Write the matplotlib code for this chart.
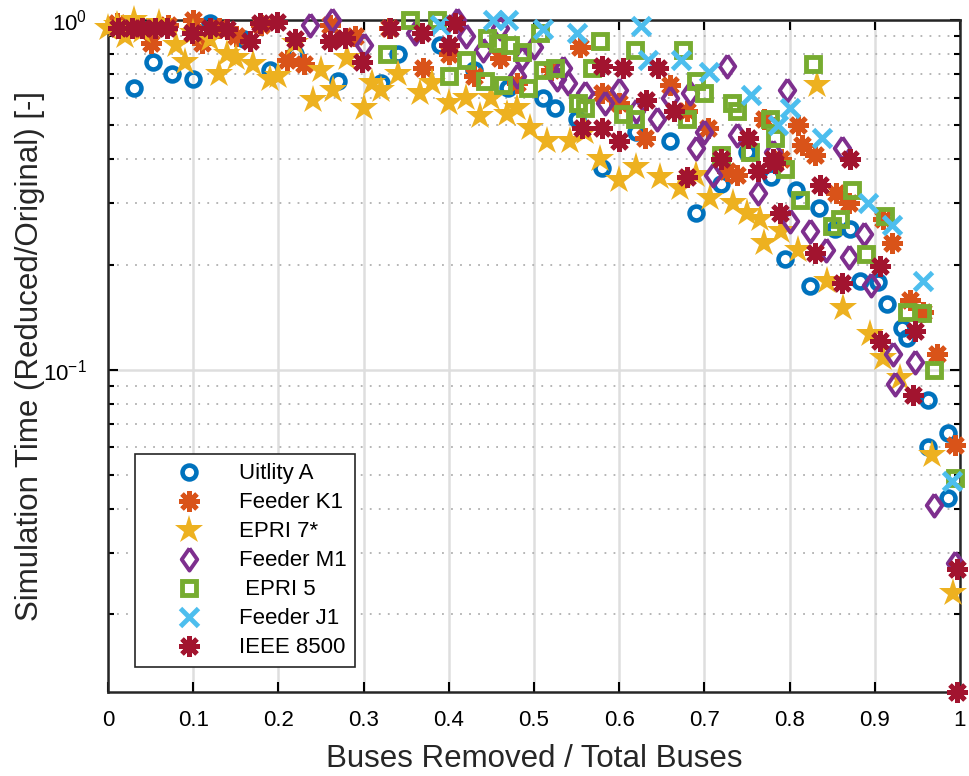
import numpy as np
import matplotlib
matplotlib.use('Agg')
import matplotlib.pyplot as plt
from matplotlib.ticker import LogLocator, NullFormatter, FixedLocator, FuncFormatter

plt.rcParams['font.family'] = ['Liberation Sans', 'DejaVu Sans']
plt.rcParams['mathtext.fontset'] = 'custom'
plt.rcParams['mathtext.rm'] = 'Liberation Sans'
plt.rcParams['mathtext.it'] = 'Liberation Sans'

# data (fraction of buses removed, normalised run time)
util_a_x = [0.03, 0.053, 0.075, 0.10, 0.12, 0.16, 0.19, 0.22, 0.27, 0.32, 0.34, 0.39, 0.43, 0.47,
            0.51, 0.525, 0.55, 0.58, 0.62, 0.66, 0.69, 0.72, 0.75, 0.778, 0.795, 0.808, 0.824,
            0.835, 0.853, 0.871, 0.883, 0.904, 0.914, 0.932, 0.938, 0.962, 0.962, 0.986, 0.986]
util_a_y = [0.64, 0.76, 0.70, 0.68, 0.98, 0.88, 0.72, 0.80, 0.67, 0.66, 0.80, 0.85, 0.72, 0.64,
            0.60, 0.56, 0.52, 0.377, 0.48, 0.45, 0.28, 0.34, 0.42, 0.355, 0.207, 0.326, 0.174,
            0.29, 0.253, 0.253, 0.18, 0.178, 0.154, 0.132, 0.123, 0.082, 0.06, 0.066, 0.043]

k1_x = [0.01, 0.03, 0.05, 0.07, 0.10, 0.11, 0.13, 0.15, 0.18, 0.21, 0.23, 0.26, 0.29, 0.33, 0.37,
        0.40, 0.43, 0.46, 0.48, 0.52, 0.554, 0.58, 0.60, 0.63, 0.66, 0.68, 0.704, 0.726, 0.738,
        0.77, 0.79, 0.81, 0.815, 0.83, 0.855, 0.87, 0.91, 0.92, 0.941, 0.956, 0.973, 0.994]
k1_y = [0.98, 0.95, 0.86, 0.97, 1.0, 0.86, 0.95, 0.90, 0.97, 0.77, 0.75, 0.97, 0.90, 0.95, 0.73,
        0.80, 0.69, 0.78, 0.66, 0.72, 0.84, 0.62, 0.58, 0.46, 0.65, 0.55, 0.49, 0.37, 0.36,
        0.52, 0.40, 0.50, 0.44, 0.41, 0.32, 0.30, 0.27, 0.23, 0.158, 0.146, 0.111, 0.061]

epri7_x = [0.0, 0.01, 0.02, 0.03, 0.04, 0.06, 0.08, 0.09, 0.10, 0.12, 0.13, 0.14, 0.15, 0.17,
           0.19, 0.20, 0.22, 0.24, 0.25, 0.264, 0.28, 0.30, 0.31, 0.32, 0.34, 0.366, 0.38, 0.40,
           0.42, 0.437, 0.45, 0.468, 0.48, 0.495, 0.515, 0.542, 0.56, 0.577, 0.60, 0.62, 0.648,
           0.671, 0.69, 0.707, 0.734, 0.75, 0.765, 0.77, 0.79, 0.81, 0.832, 0.844, 0.863, 0.894,
           0.91, 0.93, 0.967, 0.992]
epri7_y = [0.95, 0.97, 0.90, 1.0, 0.93, 0.98, 0.85, 0.76, 0.92, 0.88, 0.70, 0.80, 0.78, 0.75,
           0.68, 0.69, 0.86, 0.59, 0.72, 0.63, 0.78, 0.56, 0.66, 0.63, 0.70, 0.62, 0.66, 0.58,
           0.60, 0.53, 0.60, 0.54, 0.56, 0.49, 0.45, 0.45, 0.48, 0.40, 0.35, 0.38, 0.355,
           0.33, 0.36, 0.31, 0.30, 0.28, 0.27, 0.23, 0.25, 0.22, 0.65, 0.18, 0.15, 0.127,
           0.108, 0.095, 0.057, 0.023]

m1_x = [0.237, 0.263, 0.30, 0.36, 0.41, 0.42, 0.44, 0.46, 0.48, 0.486, 0.50, 0.527, 0.534, 0.54,
        0.56, 0.583, 0.60, 0.62, 0.644, 0.66, 0.683, 0.69, 0.70, 0.71, 0.726, 0.738, 0.763, 0.78,
        0.797, 0.80, 0.824, 0.843, 0.861, 0.87, 0.887, 0.896, 0.921, 0.924, 0.947, 0.969, 0.994]
m1_y = [0.97, 1.0, 0.85, 0.92, 1.0, 0.90, 0.82, 0.95, 0.69, 0.78, 0.84, 0.68, 0.73, 0.66,
        0.62, 0.58, 0.63, 0.55, 0.52, 0.60, 0.62, 0.43, 0.48, 0.36, 0.74, 0.47, 0.32, 0.42,
        0.63, 0.267, 0.25, 0.22, 0.43, 0.21, 0.245, 0.175, 0.111, 0.091, 0.105, 0.041, 0.028]

epri5_x = [0.327, 0.354, 0.386, 0.40, 0.42, 0.442, 0.445, 0.458, 0.464, 0.472, 0.486, 0.493,
           0.507, 0.51, 0.525, 0.552, 0.56, 0.568, 0.577, 0.605, 0.618, 0.618, 0.675, 0.68,
           0.69, 0.70, 0.72, 0.732, 0.738, 0.753, 0.777, 0.783, 0.795, 0.812, 0.827, 0.85,
           0.859, 0.873, 0.89, 0.912, 0.938, 0.955, 0.969, 0.994]
epri5_y = [0.80, 1.0, 1.0, 0.69, 0.77, 0.67, 0.89, 0.86, 0.65, 0.85, 0.81, 0.64,
           0.92, 0.72, 0.73, 0.58, 0.56, 0.73, 0.87, 0.54, 0.52, 0.82, 0.82, 0.52,
           0.67, 0.62, 0.41, 0.58, 0.55, 0.42, 0.52, 0.46, 0.376, 0.305, 0.75, 0.258,
           0.27, 0.326, 0.215, 0.276, 0.146, 0.145, 0.10, 0.049]

j1_x = [0.39, 0.452, 0.47, 0.51, 0.55, 0.625, 0.634, 0.673, 0.705, 0.755, 0.786, 0.80, 0.838,
        0.892, 0.92, 0.957, 0.991]
j1_y = [0.97, 1.0, 1.0, 0.94, 0.92, 0.96, 0.77, 0.77, 0.71, 0.61, 0.50, 0.56, 0.46,
        0.30, 0.26, 0.18, 0.048]

ieee_x = [0.012, 0.028, 0.04, 0.055, 0.069, 0.098, 0.12, 0.14, 0.167, 0.178, 0.198, 0.22, 0.26,
          0.278, 0.298, 0.331, 0.368, 0.40, 0.407, 0.556, 0.58, 0.58, 0.60, 0.605, 0.632, 0.646,
          0.664, 0.68, 0.72, 0.751, 0.763, 0.78, 0.783, 0.789, 0.83, 0.836, 0.861, 0.871, 0.906,
          0.906, 0.945, 0.947, 0.996, 0.996]
ieee_y = [0.95, 0.95, 0.95, 0.95, 0.95, 0.92, 0.95, 0.94, 0.87, 0.98, 0.99, 0.88, 0.87,
          0.89, 0.76, 0.95, 0.92, 0.85, 0.98, 0.49, 0.49, 0.74, 0.45, 0.73, 0.59, 0.73,
          0.55, 0.355, 0.40, 0.46, 0.37, 0.40, 0.39, 0.28, 0.216, 0.337, 0.177, 0.40, 0.198,
          0.121, 0.085, 0.129, 0.027, 0.012]

fig = plt.figure(figsize=(9.69, 7.76), dpi=100)
ax = fig.add_axes([0.1115, 0.1082, 0.8792, 0.866])

aster = (8, 2, 0)
diamond = [(0, 1), (0.7, 0), (0, -1), (-0.7, 0), (0, 1)]
series = [
    (util_a_x, util_a_y, 'Uitlity A', dict(marker='o', ms=10, mew=3.3, mfc='none', mec='#0072BD')),
    (k1_x, k1_y, 'Feeder K1', dict(marker=aster, ms=15, mew=3.5, mec='#D95319', mfc='#D95319')),
    (epri7_x, epri7_y, 'EPRI 7*', dict(marker='*', ms=21, mew=0, mfc='#EDB120', mec='#EDB120')),
    (m1_x, m1_y, 'Feeder M1', dict(marker=diamond, ms=16, mew=2.8, mfc='none', mec='#7E2F8E')),
    (epri5_x, epri5_y, ' EPRI 5', dict(marker='s', ms=10.5, mew=3.5, mfc='none', mec='#77AC30')),
    (j1_x, j1_y, 'Feeder J1', dict(marker='x', ms=13, mew=3.5, mec='#4DBEEE')),
    (ieee_x, ieee_y, 'IEEE 8500', dict(marker=aster, ms=15, mew=3.5, mec='#A2142F', mfc='#A2142F')),
]
for xs, ys, lab, st in series:
    ax.plot(xs, ys, linestyle='none', label=lab, clip_on=False, zorder=3, **st)

ax.set_yscale('log')
ax.set_xlim(0, 1)
ax.set_ylim(0.012, 1)
ax.xaxis.set_major_locator(FixedLocator(np.arange(0, 1.01, 0.1)))
ax.xaxis.set_major_formatter(FuncFormatter(lambda v, p: '%g' % round(v, 1)))
ax.yaxis.set_major_locator(LogLocator(base=10))
ax.yaxis.set_minor_locator(LogLocator(base=10, subs=np.arange(2, 10)))
ax.yaxis.set_minor_formatter(NullFormatter())

ax.grid(True, which='major', color='#dedede', linewidth=1.8, zorder=0)
ax.grid(True, which='minor', axis='y', color='#b0b0b0', linestyle=(0, (1, 4)), linewidth=1.3)
ax.set_axisbelow(True)
ax.tick_params(which='both', direction='in', top=True, right=True, labelsize=16, width=1.5)
ax.tick_params(axis='x', which='major', pad=13)
ax.tick_params(axis='y', which='major', pad=15)
ax.tick_params(which='major', length=7)
ax.tick_params(which='minor', length=4)
for s in ax.spines.values():
    s.set_linewidth(1.8)
    s.set_color('#262626')

ax.set_xlabel('Buses Removed / Total Buses', fontsize=22.5, labelpad=9, color='#262626')
ax.set_ylabel('Simulation Time (Reduced/Original) [-]', fontsize=22.5, labelpad=-1, color='#262626')

leg = ax.legend(loc='lower left', bbox_to_anchor=(0.032, 0.037), borderaxespad=0,
                fontsize=16, fancybox=False, edgecolor='#262626', framealpha=1,
                handletextpad=0.25, labelspacing=0.36, borderpad=0.4, handlelength=4)
leg.get_frame().set_linewidth(1.2)

fig.savefig('out.png', dpi=100)
